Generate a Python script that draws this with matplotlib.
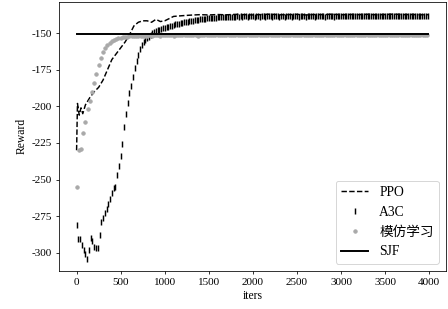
import numpy as np
import matplotlib
matplotlib.use("Agg")
import matplotlib.pyplot as plt

plt.rcParams['font.family'] = ['Liberation Serif', 'Noto Sans CJK SC']
plt.rcParams['axes.unicode_minus'] = False
plt.rcParams['font.size'] = 11.5

# PPO (dashed line)
ppo_iters = [0, 10, 30, 50, 70, 100, 150, 200, 250, 300, 350, 400, 450, 500,
             550, 600, 650, 700, 750, 800, 850, 900, 950, 1000, 1050, 1100,
             1200, 1300, 1400, 1500, 1600, 1700, 1800, 1900, 2000, 2100, 2200,
             2300, 2400, 2500, 2600, 2700, 2800, 2900, 3000, 3100, 3200, 3300,
             3400, 3500, 3600, 3700, 3800, 3900, 3990]
ppo_reward = [-230, -198, -206, -201, -205, -199, -194, -190, -187, -182, -175,
              -168, -164, -160, -156, -151, -145, -142.5, -141.5, -141.5,
              -142.5, -140.5, -142, -141.5, -140, -138.5, -138, -137.6, -137.3,
              -137.5, -137.2, -137.4, -137.1, -137.3, -137.5, -137.2, -137.0,
              -137.4, -137.3, -137.1, -137.5, -137.2, -137.3, -137.0, -137.4,
              -137.2, -137.3, -137.1, -137.4, -137.2, -137.0, -137.3, -137.2,
              -137.4, -137.3]

# A3C ('|' markers, every 20 iters)
a3c_iters = list(range(0, 4000, 20))
a3c_reward = [
    -281, -291, -291, -295, -298, -301, -304, -298, -290, -292,
    -296, -297, -297, -288, -279, -276, -273, -270, -267, -263,
    -259, -256, -255, -247, -241, -234, -226, -214, -205, -198,
    -191, -186, -180, -174, -169, -165, -161, -158, -156, -154.5,
    -153.5, -152.5, -151, -150, -149, -148.5, -148, -147.5, -147, -146.5,
    -146.5, -146, -145.5, -145, -144.8, -144.5, -144, -143.8, -143.5, -143,
    -142.8, -142.5, -142.3, -142, -141.8, -141.5, -141.3, -141, -140.8, -140.7,
    -140.5, -140.3, -140.2, -140, -139.9, -139.8, -139.7, -139.5, -139.4, -139.3,
    -139.2, -139, -139.1, -138.9, -139, -138.8, -138.9, -138.7, -138.8, -138.6,
    -138.7, -138.5, -138.8, -138.4, -138.6, -138.5, -138.3, -138.7, -138.4, -138.5,
    -138.3, -138.6, -138.2, -138.5, -138.7, -138.3, -138.4, -138.6, -138.2, -138.5,
    -138.4, -138.7, -138.3, -138.5, -138.2, -138.6, -138.4, -138.3, -138.6, -138.5,
    -138.2, -138.4, -138.6, -138.3, -138.5, -138.2, -138.7, -138.4, -138.3, -138.5,
    -138.6, -138.2, -138.4, -138.5, -138.3, -138.6, -138.4, -138.2, -138.5, -138.3,
    -138.4, -138.6, -138.3, -138.5, -138.2, -138.4, -138.6, -138.3, -138.4, -138.5,
    -138.1, -138.4, -138.3, -138.5, -138.2, -138.4, -138.1, -138.3, -138.5, -138.2,
    -138.4, -138.3, -138.1, -138.5, -138.2, -138.3, -138.4, -138.1, -138.3, -138.2,
    -138.4, -138.1, -138.3, -138.2, -138.5, -138.1, -138.3, -138.2, -138.4, -138.1,
    -138.2, -138.4, -138.1, -138.3, -138.2, -138.0, -138.3, -138.2, -138.4, -138.1,
    -138.3, -138.2, -138.0, -138.3, -138.1, -138.2, -138.4, -138.1, -138.2, -138.3,
]

# imitation learning (grey dots, every 25 iters)
il_iters = list(range(0, 4000, 25))
il_reward = [
    -255, -230, -229, -218, -211, -202, -196, -190, -184, -178,
    -172, -167, -163, -160, -158, -156.5, -155.5, -154.5, -154, -153.5,
    -153, -152.8, -152.5, -152.3,
    -152.1, -152.0, -151.9, -151.8, -151.8, -151.7, -151.7, -151.6, -151.6, -151.5,
    -151.6, -151.5, -151.4, -151.5, -151.6, -151.4, -151.5, -151.3, -151.5, -151.4,
    -151.6, -151.4, -151.3, -151.5, -151.4, -151.2, -151.5, -151.4, -151.3, -151.5,
    -151.4, -151.6, -151.3, -151.4, -151.5, -151.2, -151.4, -151.3, -151.5, -151.4,
    -151.3, -151.5, -151.2, -151.4, -151.3, -151.5, -151.4, -151.2, -151.3, -151.5,
    -151.4, -151.3, -151.2, -151.4, -151.5, -151.3, -151.4, -151.2, -151.3, -151.4,
    -151.5, -151.3, -151.2, -151.4, -151.3, -151.5, -151.2, -151.4, -151.3, -151.2,
    -151.4, -151.3, -151.5, -151.2, -151.3, -151.4, -151.2, -151.3, -151.5, -151.4,
    -151.2, -151.3, -151.4, -151.2, -151.3, -151.5, -151.3, -151.2, -151.4, -151.3,
    -151.2, -151.4, -151.3, -151.5, -151.2, -151.3, -151.4, -151.2, -151.3, -151.4,
    -151.2, -151.3, -151.4, -151.2, -151.5, -151.3, -151.2, -151.4, -151.3, -151.2,
    -151.4, -151.3, -151.2, -151.5, -151.3, -151.4, -151.2, -151.3, -151.4, -151.2,
    -151.3, -151.5, -151.2, -151.4, -151.3, -151.2, -151.4, -151.3, -151.5, -151.2,
    -151.3, -151.4, -151.2, -151.3, -151.5, -151.4,
]

# SJF baseline
sjf_iters = [0, 3990]
sjf_reward = [-150.6, -150.6]

fig = plt.figure(figsize=(6.4, 309 / 70), dpi=70)
ax = fig.add_axes([0.1317, 0.1239, 0.8638, 0.8696])

ax.plot(ppo_iters, ppo_reward, color='k', linestyle='--', linewidth=1.5, label='PPO')
ax.plot(a3c_iters, a3c_reward, color='k', linestyle='none', marker='|',
        markersize=7, markeredgewidth=1.5, label='A3C')
ax.plot(il_iters, il_reward, color='darkgray', linestyle='none', marker='o',
        markersize=3.5, label='模仿学习')
ax.plot(sjf_iters, sjf_reward, color='k', linewidth=2, label='SJF')

ax.set_xticks(np.arange(0, 4001, 500))
ax.set_yticks(np.arange(-300, -149, 25))
ax.set_xlabel('iters', fontsize=12)
ax.set_ylabel('Reward', fontsize=12)
ax.legend(loc='lower right', fontsize=14)

fig.savefig('out.png', dpi=70)
